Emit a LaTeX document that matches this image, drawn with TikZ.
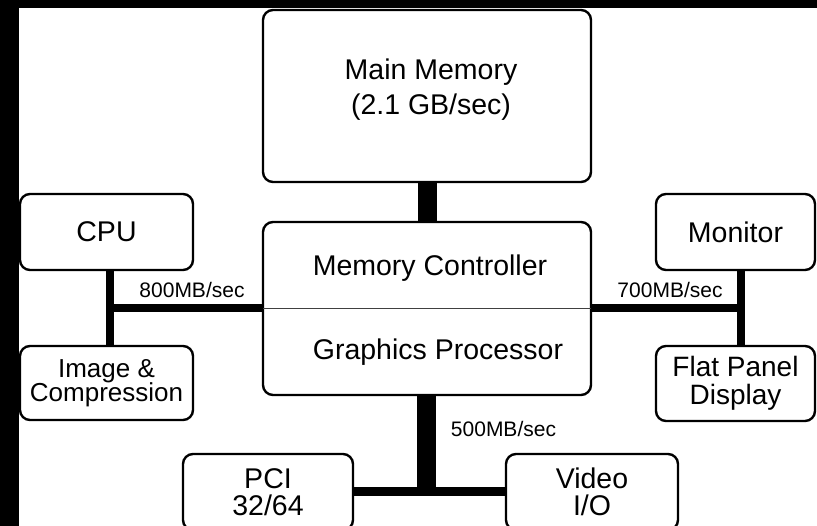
\documentclass[tikz,border=0pt]{standalone}
\usepackage{fontspec}
\setmainfont{Liberation Sans}
\begin{document}
\begin{tikzpicture}[x=1pt,y=-1pt,
  box/.style={draw=black, line width=2.4pt, rounded corners=10pt, fill=white, inner sep=0pt, outer sep=0pt, align=center, font=\fontsize{28.5}{27}\selectfont},
  lbl/.style={inner sep=0pt, align=center, font=\fontsize{28.5}{27}\selectfont},
  rate/.style={inner sep=0pt, font=\fontsize{21}{21}\selectfont},
  bus/.style={line width=#1, draw=black}]
\useasboundingbox (0,0) rectangle (817,526);
\clip (0,0) rectangle (817,526);
\fill[white] (0,0) rectangle (817,526);
\fill[black] (0,0) rectangle (817,8);
\fill[black] (0,0) rectangle (19,526);
% boxes
\node[box, minimum width=328, minimum height=172] (mm) at (427,96) {};
\node[box, minimum width=328, minimum height=173] (mc) at (427,308.5) {};
\node[box, minimum width=173, minimum height=76] (cpu) at (106.5,232) {CPU};
\node[box, minimum width=173, minimum height=74, font=\fontsize{26}{24.5}\selectfont] (img) at (106.5,383) {Image \&\\Compression};
\node[box, minimum width=159, minimum height=76] (mon) at (735.5,232) {Monitor};
\node[box, minimum width=159, minimum height=75, font=\fontsize{28}{28}\selectfont] (fpd) at (735.5,383.5) {Flat Panel\\Display};
\node[box, minimum width=170, minimum height=76] (pci) at (268,492) {PCI\\32/64};
\node[box, minimum width=172, minimum height=76] (vio) at (592,492) {Video\\I/O};
% texts
\node[lbl, font=\fontsize{28.5}{35}\selectfont] (mmt) at (431,90) {Main Memory\\(2.1 GB/sec)};
\node[lbl] (mct) at (430,268) {Memory Controller};
\node[lbl] (gpt) at (438,352) {Graphics Processor};
\draw[line width=1.2pt, black!75] (mc.west) -- (mc.east);
% buses
\coordinate (lb) at (110,308);
\coordinate (rb) at (741,308);
\coordinate (bb) at (426.5,492);
\draw[bus=19pt] (mm.south) -- (mc.north);
\draw[bus=8pt] (cpu.south -| lb) -- (img.north -| lb);
\draw[bus=8pt] (lb) -- (mc.west |- lb);
\draw[bus=8pt] (mon.south -| rb) -- (fpd.north -| rb);
\draw[bus=8pt] (rb) -- (mc.east |- rb);
\draw[bus=19pt] (mc.south -| bb) -- (bb);
\draw[bus=9pt] (pci.east |- bb) -- (vio.west |- bb);
% rates
\node[rate] (r800) at (192,290) {800MB/sec};
\node[rate] (r700) at (670,289.5) {700MB/sec};
\node[rate] (r500) at (503.5,428.5) {500MB/sec};
\end{tikzpicture}
\end{document}
